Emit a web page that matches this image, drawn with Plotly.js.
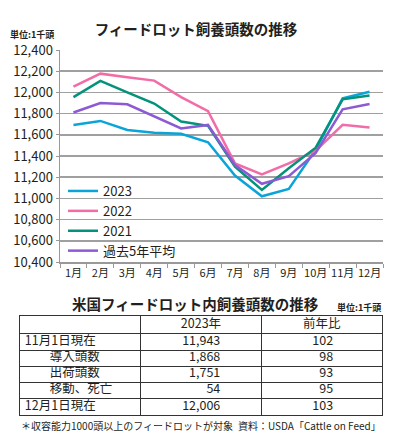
<!DOCTYPE html>
<html>
<head>
<meta charset="utf-8">
<script src="https://cdn.plot.ly/plotly-3.0.1.min.js"></script>
<style>html,body{margin:0;padding:0;background:#fff;}#chart{width:398px;height:433px;}</style>
</head>
<body>
<div id="chart"></div>
<script>
// ---- chart data ----
const months = ['1月','2月','3月','4月','5月','6月','7月','8月','9月','10月','11月','12月'];
const seriesNames = ['2023','2022','2021','過去5年平均'];
const y2023 = [11693, 11731, 11646, 11620, 11610, 11530, 11215, 11020, 11090, 11460, 11943, 12006];
const y2022 = [12055, 12177, 12143, 12111, 11955, 11823, 11330, 11227, 11330, 11450, 11695, 11668];
const y2021 = [11955, 12108, 12000, 11895, 11725, 11685, 11300, 11080, 11285, 11478, 11935, 11970];
const yAvg  = [11810, 11900, 11888, 11775, 11660, 11693, 11315, 11138, 11210, 11430, 11840, 11890];
const yTicks = [10400, 10600, 10800, 11000, 11200, 11400, 11600, 11800, 12000, 12200, 12400];

// ---- table data ----
const tableHeader = ['2023年', '前年比'];
const rowLabels = ['11月1日現在', '導入頭数', '出荷頭数', '移動、死亡', '12月1日現在'];
const head2023 = [11943, 1868, 1751, 54, 12006];
const yoy = [102, 98, 93, 95, 103];

const colors = ['#0aa5d8', '#f26ca7', '#03927a', '#8c5bd4'];
const FONT = '"Noto Sans CJK JP", "Noto Sans", sans-serif';
const TXT = '#231f20';
const W = 398, H = 433;
const px = x => x / W;
const py = y => 1 - y / H;

const lineSeries = [y2023, y2022, y2021, yAvg];
const traces = lineSeries.map((ys, i) => ({
  type: 'scatter', mode: 'lines', x: months, y: ys, name: seriesNames[i],
  line: {color: colors[i], width: 2.5},
  xaxis: 'x', yaxis: 'y', hoverinfo: 'skip'
}));

// ---- table drawn on its own axes: columns 0..3; header row is slightly taller ----
const fmt = v => v.toLocaleString('en-US');
const nRows = rowLabels.length;
const HDR = 1.1;                       // header row height in row units
const rowBounds = [0].concat(rowLabels.map((_, i) => HDR + i), [HDR + nRows]);
const rowIdx = rowLabels.map((_, i) => HDR + i + 0.47);
const LABEL_X = 0.04, COL2_RIGHT = 1.66, COL3_RIGHT = 2.595;
const labelText = rowLabels.map((l, i) => (i > 0 && i < nRows - 1 ? '\u3000\u3000' : '') + l);
const tfont = {family: FONT, size: 12.5, color: TXT};
const tableTrace = (x, y, text, pos) => ({
  type: 'scatter', mode: 'text', x, y, text, textposition: pos,
  textfont: tfont, xaxis: 'x2', yaxis: 'y2', showlegend: false, hoverinfo: 'skip', cliponaxis: false
});
traces.push(tableTrace([1.5, 2.5], [HDR / 2, HDR / 2], tableHeader, 'middle center'));
traces.push(tableTrace(rowLabels.map(() => LABEL_X), rowIdx, labelText, 'middle right'));
traces.push(tableTrace(rowLabels.map(() => COL2_RIGHT), rowIdx, head2023.map(fmt), 'middle left'));
traces.push(tableTrace(rowLabels.map(() => COL3_RIGHT), rowIdx, yoy.map(String), 'middle left'));

const tableAxis = {
  showgrid: true, gridcolor: '#333', gridwidth: 1,
  showline: true, mirror: true, linecolor: '#333', linewidth: 1,
  showticklabels: false, ticks: '', zeroline: false, fixedrange: true
};

const layout = {
  width: W, height: H,
  margin: {l: 0, r: 0, t: 0, b: 0},
  paper_bgcolor: '#fff', plot_bgcolor: '#fff',
  font: {family: FONT, color: TXT},
  title: {
    text: 'フィードロット飼養頭数の推移',
    font: {family: FONT, size: 14.5, weight: 'bold', color: TXT},
    xref: 'paper', x: px(196), xanchor: 'center',
    yref: 'container', y: py(30), yanchor: 'middle'
  },
  xaxis: {
    domain: [px(60), px(383)], anchor: 'y',
    type: 'category', range: [-0.5, 11.5],
    showgrid: false, showline: true, linecolor: '#999', linewidth: 1.5,
    ticks: 'outside', tickson: 'boundaries', ticklen: 4, tickcolor: '#999', tickwidth: 1,
    tickangle: 0,
    tickfont: {family: FONT, size: 11, color: TXT},
    fixedrange: true, automargin: false
  },
  yaxis: {
    domain: [py(262), py(50)], anchor: 'x',
    range: [10400, 12400], tickvals: yTicks, tickformat: ',d',
    showgrid: true, gridcolor: '#a0a0a0', gridwidth: 1.5,
    showline: true, linecolor: '#999', linewidth: 1.5,
    ticks: 'outside', ticklen: 3, tickcolor: '#999',
    tickfont: {family: FONT, size: 13, color: TXT},
    zeroline: false, fixedrange: true, automargin: false
  },
  xaxis2: Object.assign({domain: [px(20), px(382)], anchor: 'y2', range: [0, 3], tickvals: [0, 1, 2, 3]}, tableAxis),
  yaxis2: Object.assign({domain: [py(415), py(316)], anchor: 'x2', range: [HDR + nRows, 0], tickvals: rowBounds}, tableAxis),
  showlegend: true,
  legend: {
    x: px(63), xanchor: 'left', y: py(176), yanchor: 'top',
    bgcolor: 'rgba(0,0,0,0)', borderwidth: 0,
    font: {family: FONT, size: 13, color: TXT},
    tracegroupgap: 0
  },
  annotations: [
    {text: '<b>単位:1千頭</b>', xref: 'paper', yref: 'paper', x: px(8), y: py(35),
     xanchor: 'left', yanchor: 'middle', showarrow: false, font: {family: FONT, size: 9, color: TXT}},
    {text: '<b>米国フィードロット内飼養頭数の推移</b>', xref: 'paper', yref: 'paper', x: px(195), y: py(303),
     xanchor: 'center', yanchor: 'middle', showarrow: false, font: {family: FONT, size: 14.5, color: TXT}},
    {text: '<b>単位:1千頭</b>', xref: 'paper', yref: 'paper', x: px(383), y: py(307),
     xanchor: 'right', yanchor: 'middle', showarrow: false, font: {family: FONT, size: 9, color: TXT}},
    {text: '＊収容能力1000頭以上のフィードロットが対象', xref: 'paper', yref: 'paper', x: px(19), y: py(425),
     xanchor: 'left', yanchor: 'middle', showarrow: false, font: {family: FONT, size: 10, color: TXT}},
    {text: '資料：USDA「Cattle on Feed」', xref: 'paper', yref: 'paper', x: px(383), y: py(425),
     xanchor: 'right', yanchor: 'middle', showarrow: false, font: {family: FONT, size: 10, color: TXT}}
  ]
};

Plotly.newPlot('chart', traces, layout, {staticPlot: true, displayModeBar: false});
</script>
</body>
</html>
